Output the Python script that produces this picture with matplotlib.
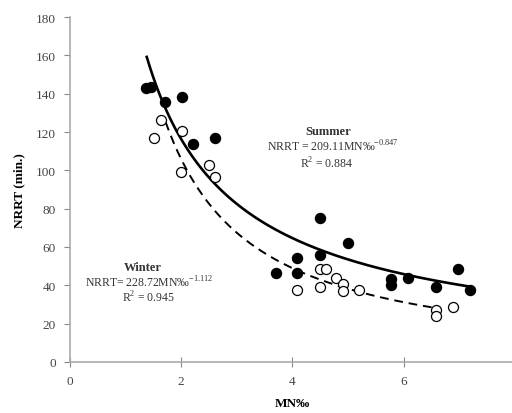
import numpy as np
import matplotlib
matplotlib.use('Agg')
import matplotlib.pyplot as plt

plt.rcParams['font.family'] = ['Liberation Serif', 'DejaVu Serif']
plt.rcParams['mathtext.fontset'] = 'custom'
plt.rcParams['mathtext.rm'] = 'Liberation Serif'

# ── data ────────────────────────────────────────────────
summer_x = [1.37, 1.46, 1.70, 2.01, 2.21, 2.60, 3.70, 4.09, 4.09, 4.49,
            4.49, 5.00, 5.78, 5.78, 6.08, 6.58, 6.98, 7.19]
summer_y = [142.9, 143.7, 135.4, 138.3, 114.0, 117.0, 46.6, 54.2, 46.6, 75.1,
            55.6, 61.9, 43.4, 40.3, 43.8, 39.0, 48.3, 37.7]

winter_x = [1.51, 1.63, 2.01, 2.00, 2.50, 2.61, 4.09, 4.49, 4.49, 4.60,
            4.78, 4.90, 4.90, 5.20, 6.58, 6.58, 6.88]
winter_y = [117.0, 126.3, 120.5, 99.2, 102.8, 96.3, 37.7, 39.0, 48.3, 48.3,
            43.8, 40.8, 36.8, 37.7, 27.2, 23.9, 28.6]

# power-law fits given in the chart
summer_a, summer_b = 209.11, -0.847
winter_a, winter_b = 228.72, -1.112
summer_range = (1.38, 7.2)
winter_range = (1.72, 6.6)

fig = plt.figure(figsize=(5.12, 4.14), dpi=100)
ax = fig.add_axes([0.1367, 0.1232, 0.869, 0.8333])

ax.scatter(summer_x, summer_y, s=52, color='black', zorder=3)
ax.scatter(winter_x, winter_y, s=52, facecolor='white', edgecolor='black',
           linewidth=0.9, zorder=3)

xs = np.linspace(*summer_range, 200)
ax.plot(xs, summer_a * xs ** summer_b, color='black', lw=1.9, zorder=2)
xw = np.linspace(*winter_range, 200)
ax.plot(xw, winter_a * xw ** winter_b, color='black', lw=1.4,
        dashes=(4.5, 3), zorder=2)

ax.set_xlim(0, 8)
ax.set_ylim(0, 180)
ax.set_xticks([0, 2, 4, 6, 8])
ax.set_yticks(range(0, 181, 20))
for s in ['top', 'right']:
    ax.spines[s].set_visible(False)
for s in ['left', 'bottom']:
    ax.spines[s].set_color('#aaaaaa')
    ax.spines[s].set_linewidth(1.2)
ax.tick_params(axis='x', direction='inout', length=7, color='#888888',
               labelsize=9.5, labelcolor='#444444', pad=6)
ax.tick_params(axis='y', direction='out', length=4, color='#888888',
               labelsize=9.5, labelcolor='#444444', pad=6)

ax.set_xlabel('MN‰', fontsize=9.5, fontweight='bold', labelpad=7)
ax.set_ylabel('NRRT (min.)', fontsize=9.5, fontweight='bold', labelpad=8)

txt = '#333333'
ax.text(4.64, 120.5, 'Summer', ha='center', va='center', fontsize=9,
        fontweight='bold', color=txt)
ax.text(4.72, 112.5, r'NRRT = 209.11MN‰$^{-0.847}$', ha='center', va='center',
        fontsize=8.5, color=txt)
ax.text(4.61, 104, r'R$^{2}$ = 0.884', ha='center', va='center',
        fontsize=8.5, color=txt)

ax.text(1.31, 49.7, 'Winter', ha='center', va='center', fontsize=9,
        fontweight='bold', color=txt)
ax.text(1.42, 41.8, r'NRRT= 228.72MN‰$^{-1.112}$', ha='center', va='center',
        fontsize=8.5, color=txt)
ax.text(1.42, 34, r'R$^{2}$ = 0.945', ha='center', va='center',
        fontsize=8.5, color=txt)

fig.savefig('out.png', dpi=100)
